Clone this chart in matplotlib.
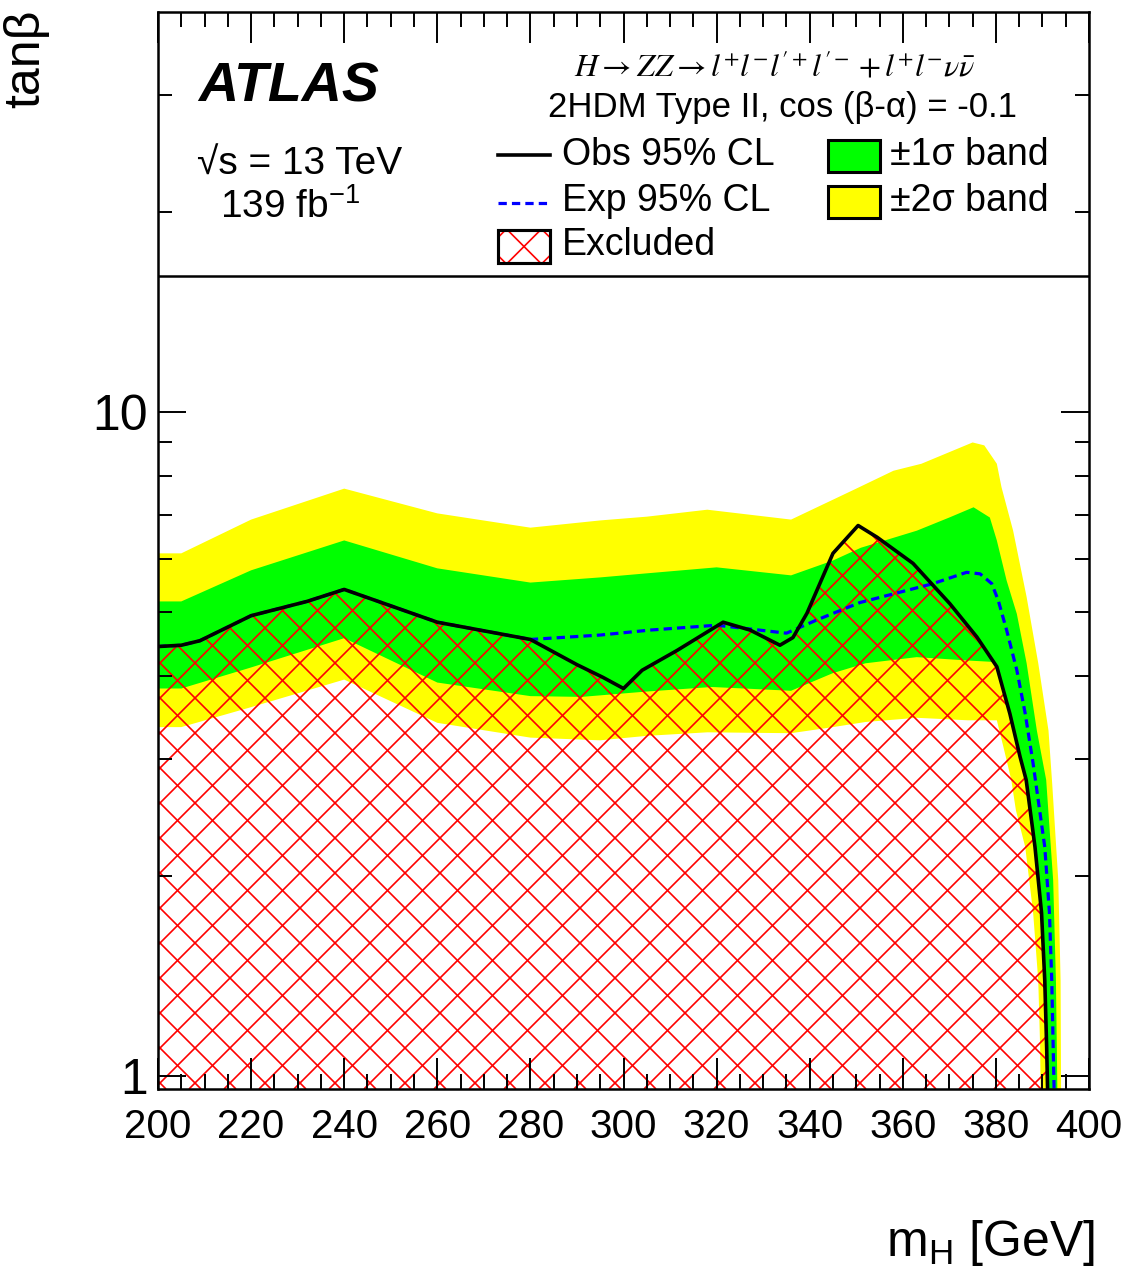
import numpy as np
import matplotlib
matplotlib.use('Agg')
import matplotlib.pyplot as plt
from matplotlib.patches import Polygon, Rectangle
from matplotlib.lines import Line2D
from matplotlib.collections import LineCollection
from matplotlib.ticker import FixedLocator, NullFormatter

plt.rcParams['font.family'] = ['Liberation Sans', 'DejaVu Sans']

FIG_W, FIG_H = 1129, 1270

# observed 95% CL limit (m_H [GeV], tan beta)
obs_mass = [200, 205, 209, 220, 232, 240, 260, 280, 290, 295.6, 300, 304, 311.5,
            321.4, 327.2, 333.6, 336.4, 339.4, 345, 350.4, 354.5, 362.2, 370.1,
            375.9, 380.2, 383.0, 385.2, 386.5, 388.4, 389.8, 390.5, 390.9, 391.1]
obs_tanb = [4.43, 4.45, 4.52, 4.93, 5.18, 5.40, 4.82, 4.54, 4.16, 3.98, 3.83, 4.08, 4.37,
            4.82, 4.69, 4.45, 4.57, 4.97, 6.12, 6.74, 6.47, 5.91, 5.14,
            4.58, 4.13, 3.51, 3.02, 2.79, 2.21, 1.76, 1.39, 1.107, 0.955]

# expected 95% CL limit
exp_mass = [200, 205, 209, 220, 232, 240, 260, 280, 295, 305.7, 320, 335, 341.6,
            350.8, 366.5, 373.7, 376.6, 379.1, 380.5, 382.3, 384.5, 386.3, 388.0,
            390.5, 391.5, 392.0, 392.3, 392.5]
exp_tanb = [4.43, 4.45, 4.52, 4.93, 5.18, 5.40, 4.82, 4.54, 4.61, 4.69, 4.77, 4.64, 4.86,
            5.16, 5.51, 5.73, 5.70, 5.51, 5.2, 4.69, 4.08, 3.51, 2.95,
            2.21, 1.76, 1.39, 1.107, 0.955]

# +1 sigma / -1 sigma contour edges
s1_up_mass = [200, 205, 220, 240, 260, 280, 295, 305, 320, 336, 345, 351, 363, 370,
              375.2, 378.7, 380.2, 382.3, 384.5, 386.6, 388.8, 390.8, 392.3, 392.9, 393.2]
s1_up_tanb = [5.18, 5.18, 5.77, 6.40, 5.81, 5.53, 5.63, 5.71, 5.83, 5.67, 5.97, 6.24, 6.62, 6.93,
              7.18, 6.93, 6.40, 5.57, 4.96, 4.18, 3.31, 2.79, 1.97, 1.39, 0.955]
s1_dn_mass = [200, 205, 220, 240, 260, 280, 291, 295, 305, 319, 336, 345, 352, 363, 374,
              379.4, 380.4, 383.2, 385.4, 386.7, 388.6, 390.0, 390.7, 391.1, 391.3]
s1_dn_tanb = [3.83, 3.83, 4.12, 4.56, 3.91, 3.73, 3.72, 3.74, 3.79, 3.85, 3.80, 4.04, 4.18, 4.27, 4.22,
              4.20, 4.13, 3.51, 3.02, 2.79, 2.21, 1.76, 1.39, 1.107, 0.955]

# +2 sigma / -2 sigma contour edges
s2_up_mass = [200, 205, 220, 240, 260, 280, 295, 305, 318, 336, 350, 358, 364, 375,
              377.5, 380.2, 381.2, 383.7, 386.6, 389.1, 391.3, 392.1, 393.4, 393.9, 394.0]
s2_up_tanb = [6.12, 6.12, 6.88, 7.66, 7.03, 6.69, 6.86, 6.95, 7.12, 6.88, 7.66, 8.15, 8.35, 8.99,
              8.9, 8.35, 7.70, 6.62, 5.26, 4.18, 3.31, 2.75, 1.97, 1.39, 0.955]
s2_dn_mass = [200, 205, 220, 240, 260, 280, 295, 305, 318, 336, 345, 352, 363, 374,
              380.2, 381.6, 383.3, 384.3, 386.3, 388.0, 389.1, 389.5, 389.6]
s2_dn_tanb = [3.35, 3.35, 3.59, 3.95, 3.40, 3.23, 3.20, 3.25, 3.29, 3.28, 3.35, 3.41, 3.46, 3.43,
              3.43, 3.13, 2.79, 2.51, 2.21, 1.76, 1.39, 1.107, 0.955]

x_major = list(range(200, 401, 20))
x_minor = list(range(200, 401, 5))
y_major = [1, 10]
y_major_labels = ['1', '10']
y_minor = [2, 3, 4, 5, 6, 7, 8, 9, 20, 30]
y_lim = (0.955, 40)
legend_floor = 16

GREEN = '#00ff00'
YELLOW = '#ffff00'
RED = '#ff0000'
BLUE = '#0000ff'


def fx(px):
    return px / FIG_W


def fy(py):
    # pixel rows counted from the top of the picture
    return 1 - py / FIG_H


def hatch_segments(x0, y0, x1, y1, cx, cy, spacing=35.0):
    """Cross hatch (+-45 deg) in figure pixels, through point (cx, cy)."""
    segs = []
    n = int((x1 - x0 + y1 - y0) / spacing) + 3
    for k in range(-n, n + 1):
        c = cx - cy + k * spacing
        segs.append([(fx(y0 + c), y0 / FIG_H), (fx(y1 + c), y1 / FIG_H)])
        d = cx + cy + k * spacing
        segs.append([(fx(d - y0), y0 / FIG_H), (fx(d - y1), y1 / FIG_H)])
    return segs


def band_polygon(up_m, up_t, dn_m, dn_t):
    xs = list(up_m) + list(dn_m[::-1])
    ys = list(up_t) + list(dn_t[::-1])
    return xs, ys


def draw_plot(fig):
    ax = fig.add_axes([fx(158), 181 / FIG_H, 931 / FIG_W, 1077 / FIG_H])
    ax.set_yscale('log')
    ax.set_xlim(200, 400)
    ax.set_ylim(*y_lim)

    xs, ys = band_polygon(s2_up_mass, s2_up_tanb, s2_dn_mass, s2_dn_tanb)
    ax.fill(xs, ys, color=YELLOW, lw=0, zorder=1)
    xs, ys = band_polygon(s1_up_mass, s1_up_tanb, s1_dn_mass, s1_dn_tanb)
    ax.fill(xs, ys, color=GREEN, lw=0, zorder=1.1)

    # excluded region: below the observed limit, red cross hatch
    ex_x = list(obs_mass) + [obs_mass[0]]
    ex_y = list(obs_tanb) + [y_lim[0]]
    excl = Polygon(np.column_stack([ex_x, ex_y]), closed=True,
                   facecolor='none', edgecolor='none')
    ax.add_patch(excl)
    lc = LineCollection(hatch_segments(158, 181, 1089, 1258, 160, 187),
                        colors=RED, linewidths=1.2, transform=fig.transFigure,
                        zorder=1.5)
    lc.set_clip_path(excl)
    ax.add_collection(lc, autolim=False)

    exp_line, = ax.plot(exp_mass, exp_tanb, color=BLUE, lw=2.3, ls='--', zorder=2)
    exp_line.set_dashes([2.6, 1.6])
    ax.plot(obs_mass, obs_tanb, color='black', lw=2.6, zorder=2.2)

    ax.axhline(legend_floor, color='black', lw=1.8, zorder=3)

    # ticks
    ax.xaxis.set_major_locator(FixedLocator(x_major))
    ax.xaxis.set_minor_locator(FixedLocator(x_minor))
    ax.yaxis.set_major_locator(FixedLocator(y_major))
    ax.yaxis.set_minor_locator(FixedLocator(y_minor))
    ax.set_yticklabels(y_major_labels)
    ax.yaxis.set_minor_formatter(NullFormatter())
    ax.tick_params(axis='both', which='both', direction='in', top=True, right=True,
                   width=1.4, color='black')
    ax.tick_params(axis='x', which='major', length=22, pad=14, labelsize=29)
    ax.tick_params(axis='x', which='minor', length=11)
    ax.tick_params(axis='y', which='major', length=20, pad=7, labelsize=36)
    ax.tick_params(axis='y', which='minor', length=10)
    for sp in ax.spines.values():
        sp.set_linewidth(1.8)
    return ax


def draw_texts(fig):
    fig.text(fx(198), fy(87), 'ATLAS', fontsize=40, fontweight='bold',
             fontstyle='italic', ha='left', va='center')
    fig.text(fx(197), fy(165), '\u221as = 13 TeV', fontsize=28, ha='left', va='center')
    fig.text(fx(220), fy(207), '139 fb$^{\\mathregular{-1}}$', fontsize=28,
             ha='left', va='center')
    fig.text(fx(775), fy(68),
             r"$H \rightarrow ZZ \rightarrow l^{+}l^{-}l^{\prime+}l^{\prime-}"
             r" + l^{+}l^{-}\nu\bar{\nu}$",
             fontsize=23, math_fontfamily='stix', ha='center', va='center')
    fig.text(fx(783), fy(108), '2HDM Type II, cos (\u03b2-\u03b1) = -0.1',
             fontsize=25, ha='center', va='center')

    # legend, drawn by hand like the ROOT one
    fig.add_artist(Line2D([fx(498), fx(550)], [fy(155), fy(155)], color='black',
                          lw=2.6, transform=fig.transFigure))
    dash = Line2D([fx(498), fx(550)], [fy(203), fy(203)], color=BLUE, lw=2.3,
                  ls='--', transform=fig.transFigure)
    dash.set_dashes([2.6, 1.6])
    fig.add_artist(dash)
    box = Rectangle((fx(498), fy(263)), 52 / FIG_W, 33 / FIG_H, facecolor='white',
                    edgecolor='black', lw=2.2, transform=fig.transFigure, zorder=3)
    fig.add_artist(box)
    box_lc = LineCollection(hatch_segments(498, FIG_H - 263, 550, FIG_H - 230,
                                           524, FIG_H - 246.5),
                            colors=RED, linewidths=1.2, transform=fig.transFigure,
                            zorder=3.1)
    box_lc.set_clip_path(box)
    fig.add_artist(box_lc)
    fig.add_artist(Rectangle((fx(498), fy(263)), 52 / FIG_W, 33 / FIG_H,
                             facecolor='none', edgecolor='black', lw=2.2,
                             transform=fig.transFigure, zorder=3.2))
    fig.add_artist(Rectangle((fx(828), fy(172)), 52 / FIG_W, 32 / FIG_H,
                             facecolor=GREEN, edgecolor='black', lw=2.2,
                             transform=fig.transFigure))
    fig.add_artist(Rectangle((fx(828), fy(218)), 52 / FIG_W, 32 / FIG_H,
                             facecolor=YELLOW, edgecolor='black', lw=2.2,
                             transform=fig.transFigure))

    fig.text(fx(562), fy(155), 'Obs 95% CL', fontsize=27, ha='left', va='center')
    fig.text(fx(562), fy(201), 'Exp 95% CL', fontsize=27, ha='left', va='center')
    fig.text(fx(562), fy(245), 'Excluded', fontsize=27, ha='left', va='center')
    fig.text(fx(890), fy(155), '\u00b11\u03c3 band', fontsize=27, ha='left', va='center')
    fig.text(fx(890), fy(201), '\u00b12\u03c3 band', fontsize=27, ha='left', va='center')

    # axis titles
    fig.text(fx(1095), fy(1256), 'm$_{\\mathregular{H}}$ [GeV]', fontsize=36,
             ha='right', va='baseline')
    fig.text(fx(26), fy(10), 'tan\u03b2', fontsize=36, rotation=90,
             ha='center', va='top')


def main():
    fig = plt.figure(figsize=(FIG_W / 100, FIG_H / 100), dpi=100)
    draw_plot(fig)
    draw_texts(fig)
    fig.savefig('out.png', dpi=100)
    plt.close(fig)


if __name__ == "__main__":
    main()
